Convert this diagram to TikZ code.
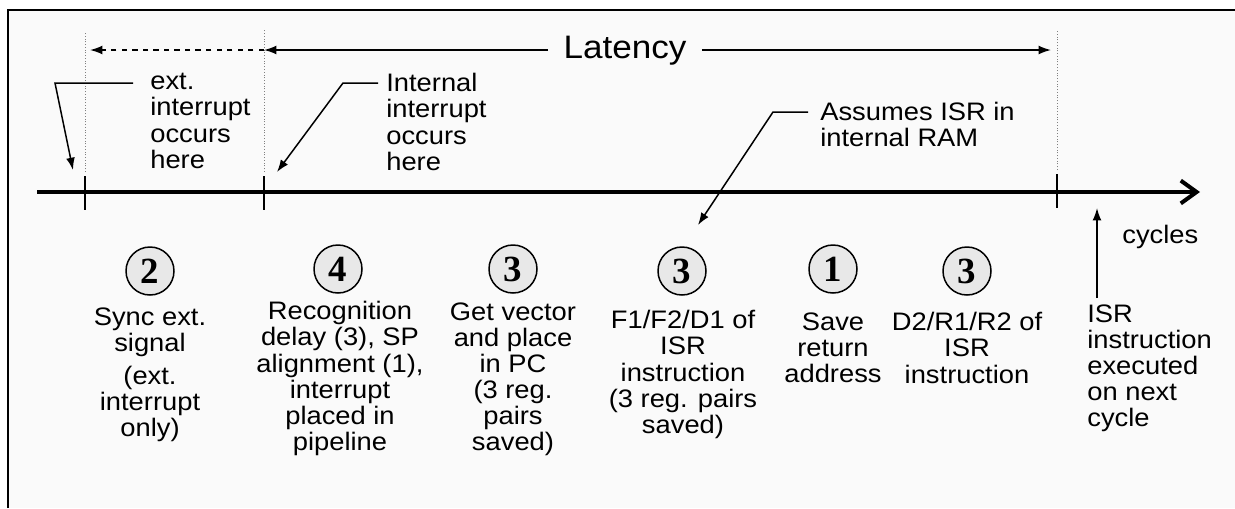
\documentclass[tikz,border=0pt]{standalone}
\usepackage{fontspec}
\setmainfont{Liberation Sans}[FakeStretch=1.08]
\newfontfamily\numfont{Liberation Serif}
\usetikzlibrary{arrows.meta,positioning}

\begin{document}
\begin{tikzpicture}[x=0.02cm,y=-0.02cm]
    %styles
    \tikzstyle{txt}=[align=center,inner sep=0pt,anchor=north,font=\fontsize{14.4}{14.9}\selectfont]
    \tikzstyle{note}=[txt,align=left,anchor=north west]
    \tikzstyle{tally}=[circle,draw,line width=0.03cm,fill=gray!18,minimum size=0.96cm,inner sep=0pt,font=\numfont\bfseries\fontsize{21}{21}\selectfont]
    \tikzstyle{ptr}=[-{Latex[length=7pt,width=5pt]},line width=0.03cm]
    \tikzstyle{guide}=[densely dotted,gray,line width=0.02cm]
    \tikzstyle{notch}=[line width=0.03cm]
    %frame
    \useasboundingbox (0,0) rectangle (1235,508);
    \fill[gray!4] (8,10) rectangle (1235,508);
    \draw[line width=0.05cm] (8,508) -- (8,10) -- (1235,10);
    %time line
    \coordinate (t0) at (37,192);
    \coordinate (t1) at (85,192);
    \coordinate (t2) at (264,192);
    \coordinate (t3) at (1057,192);
    \coordinate (tend) at (1200,192);
    \draw[line width=0.08cm,-{Straight Barb[length=9pt,width=13pt,line width=0.08cm]}] (t0) -- (tend);
    \draw[notch] ([yshift=0.32cm]t1) -- ([yshift=-0.36cm]t1);
    \draw[notch] ([yshift=0.32cm]t2) -- ([yshift=-0.36cm]t2);
    \draw[notch] ([yshift=0.36cm]t3) -- ([yshift=-0.32cm]t3);
    \draw[guide] ([yshift=0.4cm]t1) -- ++(0,-140);
    \draw[guide] ([yshift=0.4cm]t2) -- ++(0,-142);
    \draw[guide] ([yshift=0.44cm]t3) -- ++(0,-140);
    %latency
    \node[font=\fontsize{18.5}{20}\selectfont,inner xsep=0.3cm] (lat) at (625,51) {Latency};
    \coordinate (lend) at (1051,50);
    \draw[ptr] (lat.west |- lend) -- (t2 |- lend);
    \draw[ptr] (lat.east |- lend) -- (lend);
    \draw[ptr,dashed] (t2 |- lend) -- ([xshift=0.1cm]t1 |- lend);
    %notes above
    \node[note] (ext) at (150,73) {ext.\\interrupt\\occurs\\here};
    \node[note] (int) at (386,73) {Internal\\interrupt\\occurs\\here};
    \node[note] (asm) at (820,102) {Assumes ISR in\\internal RAM};
    \coordinate (extknee) at (55,83);
    \coordinate (extfoot) at (73,170);
    \coordinate (intknee) at (343,83);
    \coordinate (intfoot) at (277,172);
    \coordinate (asmknee) at (773,112);
    \coordinate (asmfoot) at (698,225);
    \draw[ptr] ([xshift=-0.34cm]ext.west |- extknee) -- (extknee) -- (extfoot);
    \draw[ptr] ([xshift=-0.16cm]int.west |- intknee) -- (intknee) -- (intfoot);
    \draw[ptr] ([xshift=-0.24cm]asm.west |- asmknee) -- (asmknee) -- (asmfoot);
    %cycle counts
    \node[tally] (n1) at (150,271) {2};
    \node[tally] (n2) at (338,269) {4};
    \node[tally] (n3) at (513,269) {3};
    \node[tally] (n4) at (682,271) {3};
    \node[tally] (n5) at (833,269) {1};
    \node[tally] (n6) at (967,271) {3};
    %descriptions
    \node[txt] (d1) at (150,307) {Sync ext.\\signal\\[0.14cm](ext.\\interrupt\\only)};
    \node[txt] (d2) at (340,301) {Recognition\\delay (3), SP\\alignment (1),\\interrupt\\placed in\\pipeline};
    \node[txt] (d3) at (513,302) {Get vector\\and place\\in PC\\(3 reg.\\pairs\\saved)};
    \node[txt] (d4) at (683,310) {F1/F2/D1 of\\ISR\\instruction\\(3 reg. pairs\\saved)};
    \node[txt] (d5) at (833,312) {Save\\return\\address};
    \node[txt] (d6) at (967,312) {D2/R1/R2 of\\ISR\\instruction};
    \node[note] (isr) at (1087,304) {ISR\\instruction\\executed\\on next\\cycle};
    \node[note] (cyc) at (1122,225) {cycles};
    \coordinate (cycfoot) at (1097,208);
    \draw[ptr] ([yshift=0.12cm]cycfoot |- isr.north) -- (cycfoot);
\end{tikzpicture}
\end{document}
